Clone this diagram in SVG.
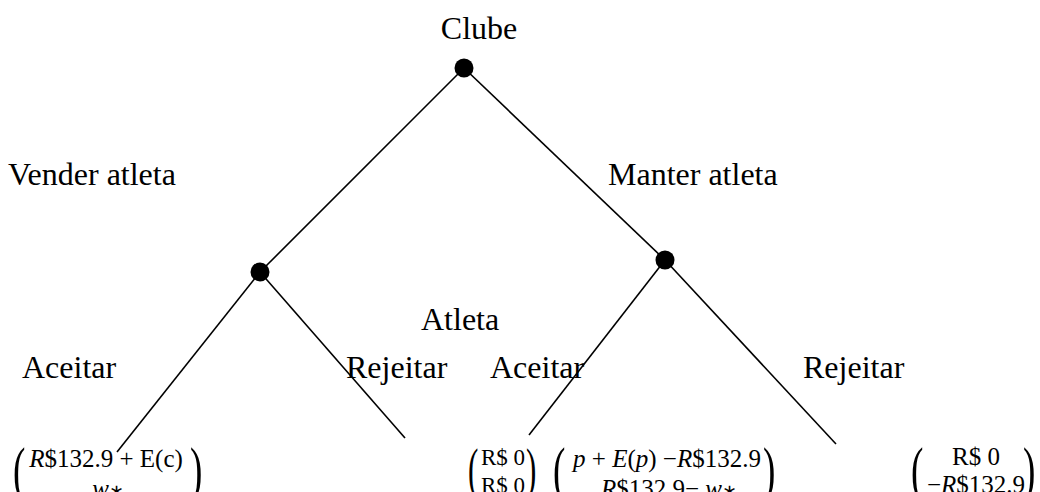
<svg xmlns="http://www.w3.org/2000/svg" width="1040" height="492" viewBox="0 0 1040 492">
<style>
.lbl{font-family:"Liberation Serif","Times New Roman",serif;font-size:32px;fill:#000}
.m{font-family:"Liberation Serif","Times New Roman",serif;font-size:25px;fill:#000}
.i{font-style:italic}
.s{font-size:18px;font-style:normal}
.p{font-family:"Liberation Serif","Times New Roman",serif;font-size:62px;fill:#000}
.edge{stroke:#000;stroke-width:1.6;fill:none}
.node{fill:#000}
</style>
<rect width="1040" height="492" fill="#fff"/>
<g id="connectors">
<line class="edge" x1="464" y1="68" x2="260" y2="272"/>
<line class="edge" x1="464" y1="68" x2="665" y2="260"/>
<line class="edge" x1="260" y1="272" x2="117" y2="452"/>
<line class="edge" x1="260" y1="272" x2="405" y2="438"/>
<line class="edge" x1="665" y1="260" x2="529" y2="435"/>
<line class="edge" x1="665" y1="260" x2="836" y2="444"/>
</g>
<g id="clube">
<circle class="node" cx="464" cy="68" r="9.5"/>
<text class="lbl" x="479" y="39" text-anchor="middle">Clube</text>
</g>
<g id="atleta-vender">
<circle class="node" cx="260" cy="272" r="9.5"/>
</g>
<g id="atleta-manter">
<circle class="node" cx="665" cy="260" r="9.5"/>
</g>
<g id="labels">
<text class="lbl" x="8" y="185">Vender atleta</text>
<text class="lbl" x="608" y="185">Manter atleta</text>
<text class="lbl" x="421" y="330">Atleta</text>
<text class="lbl" x="22" y="378">Aceitar</text>
<text class="lbl" x="346" y="378">Rejeitar</text>
<text class="lbl" x="490" y="378">Aceitar</text>
<text class="lbl" x="803" y="378">Rejeitar</text>
</g>
<g id="payoff-1">
<text class="p" transform="translate(13,490) scale(0.6,1)">(</text>
<text class="m" x="106" y="467" text-anchor="middle"><tspan class="i">R</tspan>$132.9 + E(c)</text>
<text class="m i" x="108" y="497" text-anchor="middle">w<tspan class="s">∗</tspan></text>
<text class="p" transform="translate(190,490) scale(0.6,1)">)</text>
</g>
<g id="payoff-2">
<text class="p" transform="translate(468,488) scale(0.5,0.92)">(</text>
<text class="m" x="503" y="465" text-anchor="middle" style="font-size:23px">R$ 0</text>
<text class="m" x="503" y="493" text-anchor="middle" style="font-size:23px">R$ 0</text>
<text class="p" transform="translate(526,488) scale(0.5,0.92)">)</text>
</g>
<g id="payoff-3">
<text class="p" transform="translate(553,490) scale(0.6,1)">(</text>
<text class="m" x="667" y="467" text-anchor="middle"><tspan class="i">p</tspan> + <tspan class="i">E</tspan>(<tspan class="i">p</tspan>) −<tspan class="i">R</tspan>$132.9</text>
<text class="m" x="669" y="497" text-anchor="middle"><tspan class="i">R</tspan>$132.9− <tspan class="i">w</tspan><tspan class="s">∗</tspan></text>
<text class="p" transform="translate(763,490) scale(0.6,1)">)</text>
</g>
<g id="payoff-4">
<text class="p" transform="translate(911,490) scale(0.6,1)">(</text>
<text class="m" x="976" y="465" text-anchor="middle">R$ 0</text>
<text class="m" x="976" y="493" text-anchor="middle">−<tspan class="i">R</tspan>$132.9</text>
<text class="p" transform="translate(1023,490) scale(0.6,1)">)</text>
</g>
</svg>
